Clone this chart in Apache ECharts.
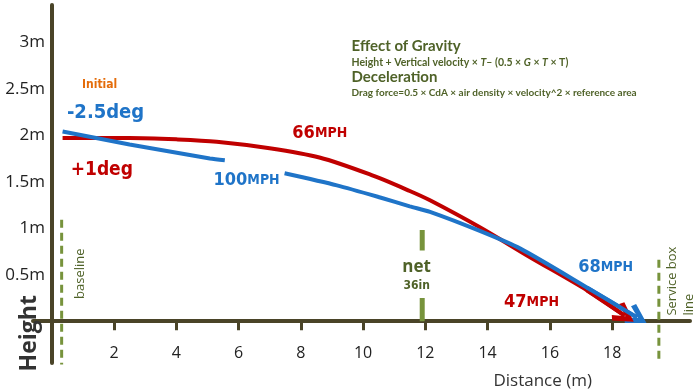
<!DOCTYPE html>
<html><head><meta charset="utf-8">
<script src="https://cdn.jsdelivr.net/npm/echarts@6/dist/echarts.min.js"></script>
<style>html,body{margin:0;padding:0;background:#fff}#c{width:700px;height:392px}</style>
</head><body><div id="c"></div>
<script>
// ---- data ----
const xTicks = [2, 4, 6, 8, 10, 12, 14, 16, 18];
const yTicks = [0.5, 1, 1.5, 2, 2.5, 3];
const redPath = [[0.35,1.97],[2.5,1.97],[4,1.955],[5.3,1.93],[7.0,1.86],[8.6,1.76],[10.2,1.58],[11.5,1.40],[12.15,1.30],[13.75,1.01],[15.35,0.69],[17.2,0.33],[18.4,0.06]];
const bluePathA = [[0.35,2.04],[2.5,1.90],[5.08,1.75],[5.56,1.73]];
const bluePathB = [[7.48,1.59],[9.16,1.46],[10.55,1.33],[11.5,1.235],[12.15,1.175],[13.75,0.97],[15.05,0.78],[17.2,0.36],[18.8,0.04]];
const baselineMark = [[0.32,1.09],[0.32,-0.5]];
const netLower = [[11.9,0],[11.9,0.25]];
const netUpper = [[11.9,0.76],[11.9,0.98]];
const serviceMark = [[19.5,0.66],[19.5,-0.42]];

const RED = '#c00000', BLUE = '#1f74c8', GREEN = '#77933c', DKGREEN = '#4f6228', AXIS = '#4a4428';

const chart = echarts.init(document.getElementById('c'));
const arrowSym = 'path://M10,0 L20,17 L16,20 L10,9 L4,20 L0,17 Z';
function lineS(data, color, width, type, z) {
  return {type:'line', data, showSymbol:false, symbol:'none', z:z||3, silent:true,
    lineStyle:{color, width, type:type||'solid'}};
}
function arrowML(path, color, size) {
  const n = path.length;
  return {silent:true, symbol:['none', arrowSym], symbolSize:[size,size], label:{show:false},
    lineStyle:{color, width:4, type:'solid'}, emphasis:{disabled:true},
    data:[[{coord:path[n-2]},{coord:path[n-1]}]]};
}
const red = lineS(redPath, RED, 4, 'solid', 4); red.smooth = 0.3;
const redArrow = lineS([], RED, 4, 'solid', 6); redArrow.markLine = arrowML(redPath, RED, 22);
const blueA = lineS(bluePathA, BLUE, 4, 'solid', 5); blueA.smooth = 0.25;
const blueB = lineS(bluePathB, BLUE, 4, 'solid', 5); blueB.smooth = 0.25; blueB.markLine = arrowML(bluePathB, BLUE, 22);

chart.setOption({
  animation:false,
  grid:{left:33, right:10, top:5, bottom:29, outerBoundsMode:'none', containLabel:false},
  xAxis:{type:'value', min:-0.6, max:20.5, splitLine:{show:false},
    axisLine:{onZero:true, lineStyle:{color:AXIS, width:4}},
    axisTick:{show:true, customValues:xTicks, length:9, lineStyle:{color:AXIS, width:3}},
    axisLabel:{customValues:xTicks, margin:-18, fontSize:16, color:'#222', fontFamily:'Open Sans'}},
  yAxis:{type:'value', min:-0.45, max:3.4, splitLine:{show:false},
    axisLine:{show:true, onZero:true, lineStyle:{color:AXIS, width:4}},
    axisTick:{show:false},
    axisLabel:{customValues:yTicks, margin:-12, fontSize:17, color:'#222', fontFamily:'Open Sans', formatter:v=>v+'m'}},
  series:[
    lineS(baselineMark, GREEN, 3, [8,5], 2),
    lineS(netLower, GREEN, 5, 'solid', 2),
    lineS(netUpper, GREEN, 5, 'solid', 2),
    lineS(serviceMark, GREEN, 3, [8,5], 2),
    red, blueA, blueB, redArrow
  ]
});

// ---- annotations (data coordinates) ----
const mph = {a:{fontSize:18, fontWeight:'bold', fontFamily:'DejaVu Sans Condensed'}, b:{fontSize:14, fontWeight:'bold', fontFamily:'DejaVu Sans Condensed'}};
const notes = [
  {at:[1.54,2.54], text:'Initial', color:'#e46c0a', font:'bold 12px "DejaVu Sans Condensed"'},
  {at:[1.73,2.24], text:'-2.5deg', color:BLUE, font:'bold 20px "DejaVu Sans Condensed"'},
  {at:[1.61,1.62], text:'+1deg', color:RED, font:'bold 19px "DejaVu Sans Condensed"'},
  {at:[8.61,2.02], text:'{a|66}{b|MPH}', color:RED, rich:true},
  {at:[6.26,1.51], text:'{a|100}{b|MPH}', color:BLUE, rich:true},
  {at:[17.79,0.58], text:'{a|68}{b|MPH}', color:BLUE, rich:true},
  {at:[15.41,0.20], text:'{a|47}{b|MPH}', color:RED, rich:true},
  {at:[11.72,0.58], text:'net', color:DKGREEN, font:'bold 17px "Open Sans"'},
  {at:[11.72,0.375], text:'36in', color:DKGREEN, font:'bold 12px "DejaVu Sans Condensed"'},
  {at:[0.93,0.51], text:'baseline', color:DKGREEN, font:'13px "Open Sans"', rot:true},
  {at:[20.2,0.06], text:'Service box\nline', color:DKGREEN, font:'13px "Open Sans"', rot:true, align:'left', lh:17},
  {at:[-0.7,-0.13], text:'Height', color:'#333', font:'bold 23px "Open Sans"', rot:true},
  {at:[15.77,-0.64], text:'Distance (m)', color:'#333', font:'17px "Open Sans"'}
];
const formula = [
  {at:[9.63,2.96], text:'Effect of Gravity', font:'bold 15px Lato', size:10},
  {at:[9.63,2.785], text:'Height + Vertical velocity × {i|T}– (0.5 × {i|G} × {i|T} × T)', font:'bold 10.5px Lato', size:10.5},
  {at:[9.63,2.62], text:'Deceleration', font:'bold 15px Lato', size:10},
  {at:[9.63,2.455], text:'Drag force=0.5 × CdA × air density × velocity^2 × reference area', font:'bold 10px Lato', size:10}
];
const g = [];
notes.forEach(n => {
  const p = chart.convertToPixel({gridIndex:0}, n.at);
  const st = {text:n.text, fill:n.color, align:n.align||'center', verticalAlign:'middle'};
  if (n.rich) st.rich = mph; else st.font = n.font;
  if (n.lh) st.lineHeight = n.lh;
  g.push({type:'text', x:p[0], y:p[1], rotation:n.rot?Math.PI/2:0, z:20, silent:true, style:st});
});
formula.forEach(n => {
  const p = chart.convertToPixel({gridIndex:0}, n.at);
  g.push({type:'text', x:p[0], y:p[1], z:20, silent:true,
    style:{text:n.text, font:n.font, fill:DKGREEN, align:'left', verticalAlign:'middle',
      rich:{i:{fontStyle:'italic', fontWeight:'bold', fontSize:n.size, fontFamily:'Lato', fill:DKGREEN}}}});
});
chart.setOption({graphic:g});
</script></body></html>
